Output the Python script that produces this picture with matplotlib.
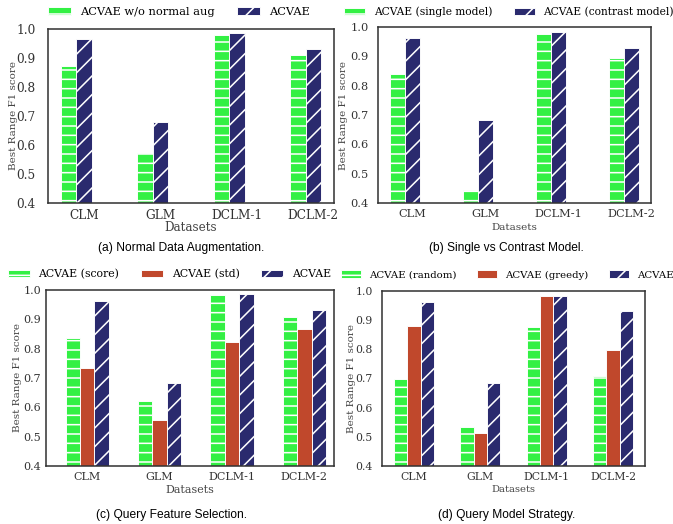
import numpy as np
import matplotlib
matplotlib.use('Agg')
import matplotlib.pyplot as plt

datasets = ['CLM', 'GLM', 'DCLM-1', 'DCLM-2']

# (a) normal data augmentation
a_wo_aug = [0.872, 0.574, 0.979, 0.910]
a_acvae = [0.964, 0.680, 0.985, 0.930]

# (b) single vs contrast model
b_single = [0.840, 0.446, 0.977, 0.896]
b_contrast = [0.962, 0.683, 0.983, 0.930]

# (c) query feature selection
c_score = [0.835, 0.623, 0.984, 0.907]
c_std = [0.735, 0.557, 0.824, 0.868]
c_acvae = [0.964, 0.682, 0.985, 0.931]

# (d) query model strategy
d_random = [0.700, 0.535, 0.878, 0.709]
d_greedy = [0.881, 0.512, 0.984, 0.798]
d_acvae = [0.963, 0.683, 0.984, 0.933]

GREEN = '#33f044'
RED = '#c0482c'
NAVY = '#2a2a6e'
W, H = 673, 524
DPI = 112

plt.rcParams['font.family'] = 'DejaVu Serif'
plt.rcParams['hatch.linewidth'] = 1.0

fig = plt.figure(figsize=(W / DPI, H / DPI), dpi=DPI)


def make_axes(left, right, top, bottom):
    return fig.add_axes([left / W, 1 - bottom / H, (right - left) / W, (bottom - top) / H])


def px_x(ax, x):
    # figure pixel x -> axes fraction
    b = ax.get_position()
    return (x / W - b.x0) / b.width


def px_y(ax, y):
    b = ax.get_position()
    return ((1 - y / H) - b.y0) / b.height


def draw(ax, series, labels, colors, hatches, offsets, fs, ylab_x, xlab_y, ypad,
         leg_xy, xlim=None):
    tick_fs, leg_fs, xl_fs = fs
    x = np.arange(len(datasets))
    w = 0.2
    for vals, lab, col, hat, off in zip(series, labels, colors, hatches, offsets):
        ax.bar(x + off * w, vals, w, color=col, edgecolor='white', linewidth=0.6,
               hatch=hat, label=lab)
    ax.set_ylim(0.4, 1.0)
    ticks = np.arange(0.4, 1.01, 0.1)
    ax.set_yticks(ticks)
    ax.set_yticklabels(['%.1f' % v for v in ticks])
    ax.set_xticks(x)
    ax.set_xticklabels(datasets)
    if xlim is not None:
        ax.set_xlim(*xlim)
    ax.tick_params(length=0, labelsize=tick_fs, colors='#333333')
    ax.tick_params(axis='y', pad=ypad)
    ax.tick_params(axis='x', pad=4)
    for s in ax.spines.values():
        s.set_color('#333333')
        s.set_linewidth(1.0)
    ax.set_xlabel('Datasets', color='#444444', fontsize=xl_fs)
    ax.set_ylabel('Best Range F1 score', color='#444444', fontsize=6.7)
    ax.yaxis.set_label_coords(px_x(ax, ylab_x), 0.5)
    ax.xaxis.set_label_coords(0.5, px_y(ax, xlab_y))
    ax.xaxis.label.set_va('center')
    ax.yaxis.label.set_va('center')
    ax.legend(loc='center left', bbox_to_anchor=(leg_xy[0] / W, 1 - leg_xy[1] / H),
              bbox_transform=fig.transFigure, ncol=len(series), frameon=False,
              borderpad=0, borderaxespad=0, fontsize=leg_fs)


ax_a = make_axes(48, 334, 29, 203)
draw(ax_a, [a_wo_aug, a_acvae], ['ACVAE w/o normal aug', 'ACVAE'],
     [GREEN, NAVY], ['--', '//'], [-1, 0], (7.8, 7.3, 7.6), 13, 228, 8, (48, 12))

ax_b = make_axes(378, 651, 27, 203)
draw(ax_b, [b_single, b_contrast], ['ACVAE (single model)', 'ACVAE (contrast model)'],
     [GREEN, NAVY], ['--', '//'], [-1, 0], (7.3, 6.85, 6.7), 343, 228, 6, (344, 12))

ax_c = make_axes(46, 334, 290, 466)
draw(ax_c, [c_score, c_std, c_acvae], ['ACVAE (score)', 'ACVAE (std)', 'ACVAE'],
     [GREEN, RED, NAVY], ['--', '', '//'], [-1, 0, 1], (7.2, 7.0, 7.1), 18, 490, 3,
     (8, 274), xlim=(-0.57, 3.41))

ax_d = make_axes(382, 645, 291, 466)
draw(ax_d, [d_random, d_greedy, d_acvae], ['ACVAE (random)', 'ACVAE (greedy)', 'ACVAE'],
     [GREEN, RED, NAVY], ['--', '', '//'], [-1, 0, 1], (7.0, 6.5, 6.4), 351, 490, 6,
     (341, 275))

captions = [('(a) Normal Data Augmentation.', 181, 248),
            ('(b) Single vs Contrast Model.', 506, 248),
            ('(c) Query Feature Selection.', 172, 515),
            ('(d) Query Model Strategy.', 507, 515)]
for txt, cx, cy in captions:
    fig.text(cx / W, 1 - cy / H, txt, ha='center', va='center',
             family='Liberation Sans', fontsize=7.7)

fig.savefig('out.png', dpi=DPI)
